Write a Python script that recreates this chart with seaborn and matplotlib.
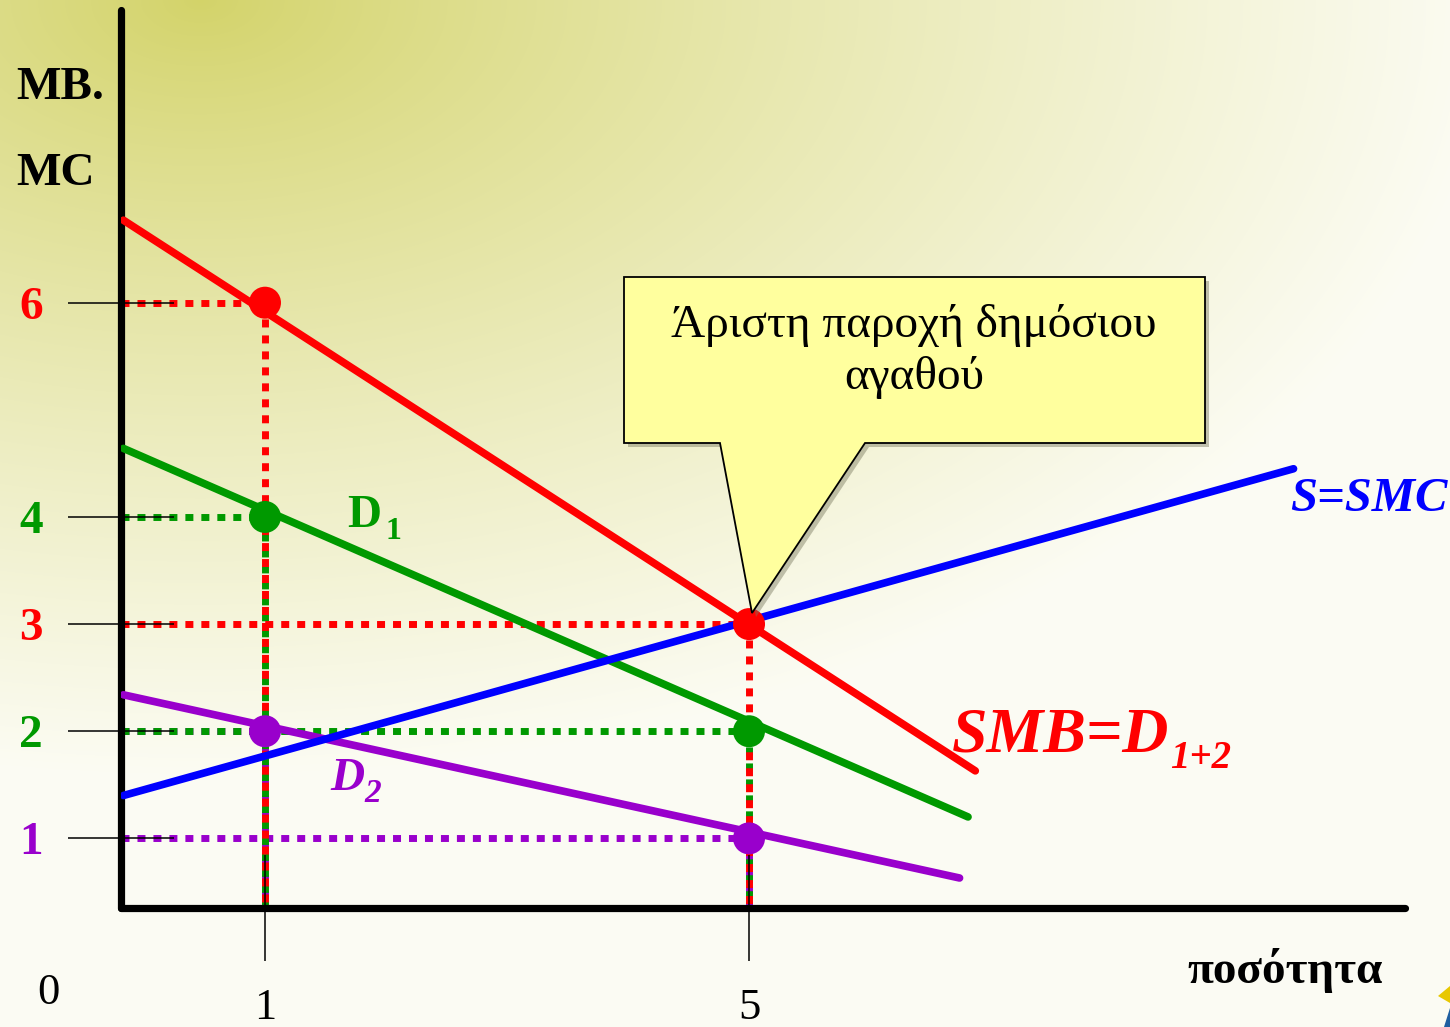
import numpy as np
import pandas as pd
import matplotlib
matplotlib.use("Agg")
import matplotlib.pyplot as plt
import seaborn as sns
from matplotlib.patches import Polygon

# ---- curves (quantity, price) ----
supply_q = [-0.17, 9.50]
supply_p = [1.40, 4.45]
smb_q = [-0.17, 6.87]
smb_p = [6.77, 1.63]
d1_q = [-0.17, 6.81]
d1_p = [4.64, 1.20]
d2_q = [-0.17, 6.74]
d2_p = [2.34, 0.63]

# ---- marked points ----
points_q = [1, 5, 1, 5, 1, 5]
points_p = [6, 3, 4, 2, 2, 1]
points_curve = ["SMB", "SMB", "D1", "D1", "D2", "D2"]

# ---- ticks ----
price_ticks = [6, 4, 3, 2, 1]
price_tick_labels = ["6", "4", "3", "2", "1"]
quantity_ticks = [1, 5]
quantity_tick_labels = ["1", "5"]

RED, GREEN, PURPLE, BLUE = "#FF0000", "#009900", "#9900CC", "#0000FF"
palette = {"SMB": RED, "D1": GREEN, "D2": PURPLE, "S": BLUE}
price_tick_colors = [RED, GREEN, RED, GREEN, PURPLE]

sns.set_style("white")
plt.rcParams["font.family"] = ["Liberation Serif", "DejaVu Serif"]
plt.rcParams["text.color"] = "black"
plt.rcParams["xtick.color"] = "black"
plt.rcParams["ytick.color"] = "black"

W, H = 1450, 1027
fig = plt.figure(figsize=(W / 100, H / 100), dpi=100)


def fx(x):
    return x / W


def fy(y):
    return 1 - y / H


# background: yellow-green glow from the upper left fading to cream
bg = fig.add_axes([0, 0, 1, 1])
yy, xx = np.mgrid[0:H, 0:W]
t = np.clip(np.sqrt(((xx - 200) / 1300.0) ** 2 + (yy / 780.0) ** 2), 0, 1) ** 0.85
top = np.array([211, 211, 105]) / 255
bottom = np.array([252, 252, 244]) / 255
grad = top[None, None, :] * (1 - t[..., None]) + bottom[None, None, :] * t[..., None]
bg.imshow(grad, aspect="auto", extent=[0, 1, 0, 1], origin="upper")
bg.set_axis_off()

# main axes, spanning the drawn axis lines
ax = fig.add_axes([fx(121), fy(908), (1405 - 121) / W, (908 - 10) / H])
ax.set_facecolor("none")
ax.set_xlim(-0.190, 10.421)
ax.set_ylim(0.350, 8.732)
xmin, ymin = ax.get_xlim()[0], ax.get_ylim()[0]

for side in ["top", "right"]:
    ax.spines[side].set_visible(False)
for side in ["left", "bottom"]:
    ax.spines[side].set_linewidth(5.2)
    ax.spines[side].set_color("black")
    ax.spines[side].set_capstyle("round")
ax.set_axisbelow(False)

# dotted guide lines from each point to the axes
dots = (0, (1.15, 1.15))
guide_order = [4, 5, 2, 3, 0, 1]
for i in guide_order:
    q, p, c = points_q[i], points_p[i], palette[points_curve[i]]
    ax.plot([xmin, q], [p, p], ls=dots, lw=5, color=c, dash_capstyle="butt", zorder=2)
    ax.plot([q, q], [p, ymin], ls=dots, lw=5, color=c, dash_capstyle="butt", zorder=2)

# curves
curves = pd.DataFrame({
    "q": smb_q + d1_q + d2_q + supply_q,
    "p": smb_p + d1_p + d2_p + supply_p,
    "curve": ["SMB"] * 2 + ["D1"] * 2 + ["D2"] * 2 + ["S"] * 2,
})
sns.lineplot(data=curves, x="q", y="p", hue="curve", palette=palette,
             hue_order=["SMB", "D1", "D2", "S"], linewidth=5.5, sort=False,
             estimator=None, legend=False, ax=ax, zorder=3)

pts = pd.DataFrame({"q": points_q, "p": points_p, "curve": points_curve})
sns.scatterplot(data=pts, x="q", y="p", hue="curve", palette=palette,
                s=530, linewidth=0, legend=False, ax=ax, zorder=5)

# ticks crossing the axes
ax.set_xticks(quantity_ticks)
ax.set_xticklabels(quantity_tick_labels)
ax.set_yticks(price_ticks)
ax.set_yticklabels(price_tick_labels)
ax.tick_params(axis="both", direction="inout", length=77, width=1.1, color="black",
               labelcolor="black")
ax.tick_params(axis="y", pad=18, labelsize=34, left=True)
ax.tick_params(axis="x", pad=19, labelsize=32, bottom=True)
for lbl, c in zip(ax.get_yticklabels(), price_tick_colors):
    lbl.set_color(c)
    lbl.set_fontweight("bold")
ax.set_xlabel("")
ax.set_ylabel("")

# axis titles
fig.text(fx(16), fy(99), "MB.", fontsize=34, fontweight="bold", va="baseline")
fig.text(fx(16), fy(185), "MC", fontsize=34, fontweight="bold", va="baseline")
fig.text(fx(48), fy(1004), "0", fontsize=32, ha="center", va="baseline")
fig.text(fx(1187), fy(983), "ποσότητα", fontsize=34, fontweight="bold", va="baseline")

# curve labels
fig.text(fx(347), fy(527), "D", fontsize=34, fontweight="bold", color=GREEN, va="baseline")
fig.text(fx(386), fy(539), "1", fontsize=23, fontweight="bold", color=GREEN, va="baseline")
fig.text(fx(330), fy(790), "D", fontsize=34, fontweight="bold", style="italic",
         color=PURPLE, va="baseline")
fig.text(fx(364), fy(802), "2", fontsize=24, fontweight="bold", style="italic",
         color=PURPLE, va="baseline")
fig.text(fx(952), fy(752), "SMB=D", fontsize=46, fontweight="bold", style="italic",
         color=RED, va="baseline")
fig.text(fx(1170), fy(768), "1+2", fontsize=28, fontweight="bold", style="italic",
         color=RED, va="baseline")
fig.text(fx(1290), fy(511), "S=SMC", fontsize=35, fontweight="bold", style="italic",
         color=BLUE, va="baseline")

# callout
callout = [(624, 277), (1205, 277), (1205, 443), (865, 443), (752, 613),
           (720, 443), (624, 443)]
shadow = Polygon([(fx(x + 4), fy(y + 4)) for x, y in callout], closed=True,
                 transform=fig.transFigure, facecolor="#7a7a60", alpha=0.45,
                 edgecolor="none", zorder=6)
box = Polygon([(fx(x), fy(y)) for x, y in callout], closed=True,
              transform=fig.transFigure, facecolor="#FFFF9E", edgecolor="black",
              linewidth=1.3, zorder=7)
fig.add_artist(shadow)
fig.add_artist(box)
fig.text(fx(914), fy(337), "Άριστη παροχή δημόσιου", fontsize=34, ha="center",
         va="baseline", zorder=8)
fig.text(fx(914), fy(389), "αγαθού", fontsize=34, ha="center", va="baseline", zorder=8)

# corner navigation glyph
fig.add_artist(Polygon([(fx(1438), fy(996)), (fx(1450), fy(986)), (fx(1450), fy(1003))],
                       closed=True, transform=fig.transFigure, facecolor="#E8C800",
                       edgecolor="none"))
fig.add_artist(Polygon([(fx(1444), fy(1027)), (fx(1450), fy(1008)), (fx(1450), fy(1027))],
                       closed=True, transform=fig.transFigure, facecolor="#1F5FA0",
                       edgecolor="none"))

fig.savefig("out.png", dpi=100)
